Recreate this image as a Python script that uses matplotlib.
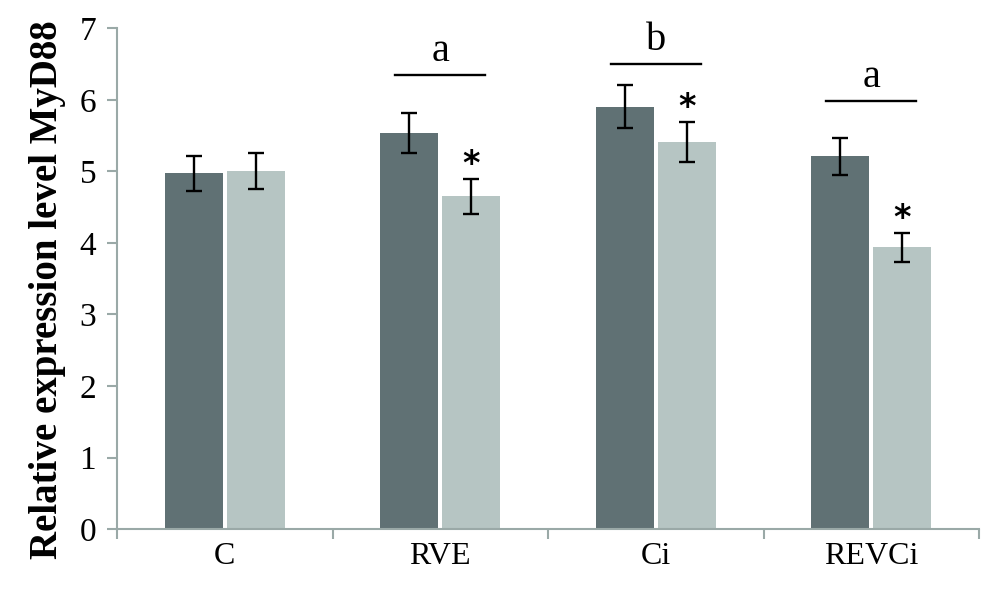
import matplotlib
matplotlib.use("Agg")
import matplotlib.pyplot as plt
import numpy as np

categories = ["C", "RVE", "Ci", "REVCi"]
dark_values = [4.97, 5.53, 5.90, 5.21]
dark_errors = [0.25, 0.28, 0.30, 0.26]
light_values = [5.00, 4.65, 5.41, 3.94]
light_errors = [0.25, 0.24, 0.28, 0.20]
significant = [False, True, True, True]
sig_letters = ["", "a", "b", "a"]
sig_line_heights = [None, 6.34, 6.50, 5.98]

dark_color = "#607174"
light_color = "#b6c5c3"
axis_color = "#9aa9a7"

plt.rcParams["font.family"] = ["Liberation Serif", "DejaVu Serif"]

fig = plt.figure(figsize=(10, 6), dpi=100)
ax = fig.add_axes([0.117, 0.118, 0.862, 0.835])

x = np.arange(len(categories))
off = 0.144
w = 0.27
ekw = dict(ecolor="black", elinewidth=1.7, capthick=1.7)
ax.bar(x - off, dark_values, w, color=dark_color, yerr=dark_errors, capsize=6, error_kw=ekw, zorder=2)
ax.bar(x + off, light_values, w, color=light_color, yerr=light_errors, capsize=6, error_kw=ekw, zorder=2)

for i in range(len(categories)):
    if significant[i]:
        ax.text(x[i] + off, light_values[i] + light_errors[i] + 0.2, "*",
                ha="center", va="center", fontsize=24, fontweight="bold", family="DejaVu Sans")
    if sig_line_heights[i] is not None:
        h = sig_line_heights[i]
        ax.plot([x[i] - off - 0.065, x[i] + off + 0.065], [h, h], color="black", lw=1.7, zorder=3)
        ax.text(x[i], h + 0.2, sig_letters[i], ha="center", va="baseline", fontsize=29)

ax.set_xlim(-0.5, len(categories) - 0.5)
ax.set_ylim(0, 7)
ax.set_yticks(range(0, 8))
ax.set_xticks(x)
ax.set_xticklabels(categories)
ax.set_xticks(np.arange(-0.5, len(categories)), minor=True)
ax.tick_params(axis="x", which="major", length=0, pad=9, labelsize=23)
ax.tick_params(axis="x", which="minor", length=7, width=1.5, color=axis_color, direction="out")
ax.tick_params(axis="y", length=7, width=1.5, color=axis_color, pad=8, labelsize=24)

for s in ["top", "right"]:
    ax.spines[s].set_visible(False)
for s in ["left", "bottom"]:
    ax.spines[s].set_color(axis_color)
    ax.spines[s].set_linewidth(1.5)

ax.set_ylabel("Relative expression level MyD88", fontsize=28, fontweight="bold")
ax.yaxis.set_label_coords(-0.059, 0.479)

fig.savefig("out.png", dpi=100)
